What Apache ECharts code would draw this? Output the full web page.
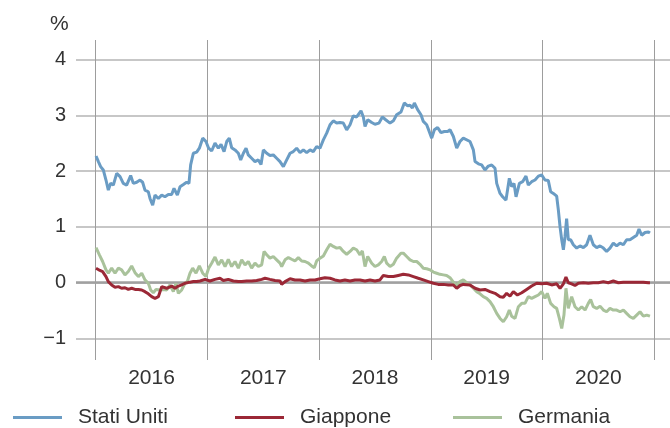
<!DOCTYPE html>
<html>
<head>
<meta charset="utf-8">
<script src="https://cdn.jsdelivr.net/npm/echarts@6/dist/echarts.min.js"></script>
<style>
  html, body { margin: 0; padding: 0; background: #fff; }
  #chart { width: 670px; height: 428px; }
</style>
</head>
<body>
<div id="chart"></div>
<script>
// etichette e valori (anno decimale, rendimento %)
const yearTicks = [2016, 2017, 2018, 2019, 2020, 2021];
const yearLabels = [2016.5, 2017.5, 2018.5, 2019.5, 2020.5];
const yTicks = [-1, 0, 1, 2, 3, 4];
const seriesNames = ["Stati Uniti", "Giappone", "Germania"];

const statiUniti = [
  [2016.003,2.27],[2016.024,2.17],[2016.044,2.08],[2016.068,2.02],[2016.092,1.84],[2016.113,1.66],[2016.134,1.78],[2016.158,1.75],
  [2016.188,1.96],[2016.218,1.90],[2016.247,1.78],[2016.277,1.75],[2016.313,1.92],[2016.337,1.78],[2016.367,1.80],[2016.397,1.84],
  [2016.420,1.80],[2016.441,1.66],[2016.471,1.63],[2016.486,1.51],[2016.510,1.39],[2016.531,1.57],[2016.561,1.51],[2016.591,1.57],
  [2016.620,1.54],[2016.650,1.58],[2016.680,1.58],[2016.701,1.69],[2016.731,1.57],[2016.755,1.72],[2016.785,1.76],[2016.814,1.80],
  [2016.835,1.78],[2016.850,2.11],[2016.874,2.32],[2016.904,2.34],[2016.928,2.41],[2016.958,2.59],[2016.987,2.53],[2017.011,2.41],
  [2017.038,2.36],[2017.068,2.50],[2017.098,2.41],[2017.122,2.48],[2017.149,2.35],[2017.173,2.53],[2017.196,2.59],[2017.217,2.42],
  [2017.247,2.38],[2017.277,2.32],[2017.298,2.20],[2017.322,2.32],[2017.346,2.41],[2017.366,2.29],[2017.396,2.23],[2017.426,2.17],
  [2017.456,2.20],[2017.480,2.12],[2017.501,2.38],[2017.531,2.32],[2017.560,2.28],[2017.590,2.29],[2017.620,2.23],[2017.650,2.17],
  [2017.680,2.08],[2017.710,2.20],[2017.740,2.32],[2017.769,2.35],[2017.799,2.41],[2017.829,2.33],[2017.859,2.38],[2017.889,2.33],
  [2017.919,2.38],[2017.948,2.35],[2017.978,2.44],[2018.008,2.41],[2018.038,2.56],[2018.068,2.68],[2018.098,2.83],[2018.127,2.90],
  [2018.157,2.86],[2018.187,2.87],[2018.217,2.86],[2018.247,2.74],[2018.277,2.83],[2018.306,2.99],[2018.336,2.97],[2018.375,3.08],
  [2018.396,2.97],[2018.411,2.80],[2018.435,2.92],[2018.471,2.87],[2018.500,2.84],[2018.536,2.86],[2018.566,2.97],[2018.596,2.92],
  [2018.635,2.86],[2018.665,2.90],[2018.694,3.01],[2018.733,3.06],[2018.763,3.22],[2018.793,3.17],[2018.814,3.18],[2018.835,3.13],
  [2018.853,3.22],[2018.882,3.10],[2018.912,3.01],[2018.933,2.89],[2018.963,2.83],[2018.984,2.72],[2019.008,2.59],[2019.032,2.74],
  [2019.061,2.78],[2019.091,2.69],[2019.121,2.71],[2019.151,2.71],[2019.172,2.74],[2019.202,2.62],[2019.232,2.41],[2019.261,2.53],
  [2019.291,2.59],[2019.351,2.53],[2019.381,2.38],[2019.396,2.17],[2019.426,2.13],[2019.455,2.11],[2019.485,2.02],[2019.515,2.09],
  [2019.545,2.11],[2019.575,2.05],[2019.590,1.78],[2019.620,1.60],[2019.643,1.54],[2019.673,1.48],[2019.703,1.87],[2019.724,1.72],
  [2019.745,1.78],[2019.763,1.54],[2019.793,1.78],[2019.822,1.81],[2019.852,1.91],[2019.873,1.75],[2019.903,1.81],[2019.933,1.84],
  [2019.963,1.91],[2019.993,1.93],[2020.022,1.84],[2020.052,1.83],[2020.073,1.63],[2020.097,1.60],[2020.127,1.55],[2020.142,1.30],
  [2020.157,1.00],[2020.172,0.77],[2020.187,0.59],[2020.201,0.82],[2020.216,1.15],[2020.231,0.77],[2020.252,0.77],[2020.276,0.68],
  [2020.306,0.62],[2020.336,0.66],[2020.366,0.63],[2020.395,0.68],[2020.425,0.85],[2020.455,0.68],[2020.485,0.63],[2020.515,0.66],
  [2020.545,0.62],[2020.574,0.56],[2020.604,0.62],[2020.634,0.71],[2020.664,0.66],[2020.694,0.71],[2020.724,0.68],[2020.753,0.77],
  [2020.783,0.77],[2020.813,0.81],[2020.843,0.85],[2020.864,0.96],[2020.888,0.85],[2020.918,0.90],[2020.948,0.91],[2020.962,0.89]
];

const giappone = [
  [2016.003,0.26],[2016.038,0.22],[2016.062,0.20],[2016.092,0.11],[2016.113,0.02],[2016.143,-0.04],[2016.173,-0.08],[2016.203,-0.07],
  [2016.232,-0.10],[2016.262,-0.09],[2016.292,-0.12],[2016.322,-0.10],[2016.352,-0.12],[2016.382,-0.12],[2016.412,-0.13],[2016.441,-0.16],
  [2016.471,-0.20],[2016.501,-0.25],[2016.531,-0.28],[2016.561,-0.25],[2016.591,-0.07],[2016.635,-0.10],[2016.680,-0.06],[2016.710,-0.10],
  [2016.740,-0.06],[2016.770,-0.04],[2016.799,-0.01],[2016.844,0.01],[2016.874,0.02],[2016.904,0.02],[2016.934,0.03],[2016.979,0.06],
  [2017.023,0.03],[2017.068,0.06],[2017.113,0.08],[2017.143,0.04],[2017.187,0.06],[2017.232,0.03],[2017.277,0.02],[2017.307,0.02],
  [2017.352,0.03],[2017.396,0.03],[2017.441,0.04],[2017.486,0.06],[2017.516,0.08],[2017.560,0.06],[2017.605,0.04],[2017.650,0.03],
  [2017.665,-0.03],[2017.695,0.02],[2017.740,0.07],[2017.784,0.05],[2017.829,0.05],[2017.874,0.03],[2017.919,0.05],[2017.963,0.05],
  [2018.008,0.07],[2018.052,0.09],[2018.098,0.08],[2018.142,0.05],[2018.187,0.03],[2018.231,0.05],[2018.277,0.03],[2018.321,0.05],
  [2018.366,0.05],[2018.411,0.03],[2018.456,0.05],[2018.500,0.03],[2018.545,0.05],[2018.575,0.13],[2018.620,0.11],[2018.665,0.11],
  [2018.709,0.13],[2018.754,0.15],[2018.799,0.14],[2018.844,0.11],[2018.888,0.08],[2018.933,0.05],[2018.978,0.02],[2019.023,-0.01],
  [2019.067,-0.03],[2019.112,-0.03],[2019.157,-0.04],[2019.202,-0.04],[2019.232,-0.10],[2019.261,-0.05],[2019.291,-0.03],[2019.351,-0.04],
  [2019.396,-0.10],[2019.441,-0.13],[2019.485,-0.12],[2019.530,-0.16],[2019.575,-0.19],[2019.620,-0.25],[2019.649,-0.26],[2019.679,-0.19],
  [2019.709,-0.24],[2019.739,-0.16],[2019.775,-0.22],[2019.814,-0.18],[2019.858,-0.12],[2019.903,-0.06],[2019.948,-0.01],[2019.993,-0.02],
  [2020.037,-0.01],[2020.082,-0.04],[2020.127,-0.02],[2020.157,-0.10],[2020.187,-0.02],[2020.210,0.10],[2020.231,0.00],[2020.261,-0.02],
  [2020.291,-0.05],[2020.321,-0.01],[2020.366,0.00],[2020.410,-0.01],[2020.455,0.00],[2020.500,0.00],[2020.545,0.02],[2020.589,0.00],
  [2020.634,0.03],[2020.679,0.00],[2020.724,0.01],[2020.768,0.01],[2020.813,0.01],[2020.858,0.01],[2020.903,0.01],[2020.948,0.00],
  [2020.962,0.00]
];

const germania = [
  [2016.003,0.63],[2016.033,0.50],[2016.062,0.38],[2016.092,0.23],[2016.113,0.17],[2016.143,0.26],[2016.173,0.17],[2016.203,0.26],
  [2016.232,0.23],[2016.262,0.14],[2016.292,0.20],[2016.322,0.30],[2016.352,0.18],[2016.382,0.11],[2016.412,0.17],[2016.441,0.05],
  [2016.471,-0.01],[2016.492,-0.13],[2016.516,-0.18],[2016.540,-0.12],[2016.576,-0.13],[2016.605,-0.12],[2016.635,-0.13],[2016.665,-0.04],
  [2016.695,-0.16],[2016.719,-0.01],[2016.740,-0.19],[2016.770,-0.13],[2016.799,-0.01],[2016.820,0.02],[2016.844,0.17],[2016.868,0.26],
  [2016.898,0.17],[2016.928,0.30],[2016.958,0.17],[2016.987,0.11],[2017.011,0.26],[2017.038,0.35],[2017.068,0.46],[2017.098,0.32],
  [2017.128,0.41],[2017.158,0.29],[2017.187,0.42],[2017.217,0.29],[2017.247,0.38],[2017.277,0.26],[2017.307,0.41],[2017.337,0.32],
  [2017.366,0.38],[2017.396,0.26],[2017.426,0.35],[2017.456,0.29],[2017.486,0.32],[2017.507,0.56],[2017.531,0.50],[2017.560,0.44],
  [2017.590,0.47],[2017.620,0.41],[2017.650,0.35],[2017.665,0.29],[2017.695,0.41],[2017.725,0.45],[2017.754,0.42],[2017.784,0.39],
  [2017.814,0.45],[2017.844,0.39],[2017.874,0.38],[2017.904,0.35],[2017.933,0.30],[2017.957,0.27],[2017.978,0.39],[2018.008,0.44],
  [2018.038,0.48],[2018.068,0.59],[2018.098,0.69],[2018.127,0.65],[2018.157,0.62],[2018.187,0.63],[2018.217,0.56],[2018.247,0.51],
  [2018.277,0.56],[2018.306,0.62],[2018.336,0.59],[2018.366,0.50],[2018.387,0.57],[2018.411,0.29],[2018.435,0.47],[2018.471,0.35],
  [2018.500,0.29],[2018.530,0.32],[2018.560,0.38],[2018.584,0.47],[2018.605,0.35],[2018.635,0.29],[2018.665,0.33],[2018.694,0.44],
  [2018.733,0.53],[2018.754,0.53],[2018.784,0.47],[2018.814,0.41],[2018.844,0.38],[2018.874,0.38],[2018.903,0.33],[2018.933,0.26],
  [2018.963,0.25],[2018.993,0.23],[2019.023,0.19],[2019.053,0.17],[2019.082,0.15],[2019.112,0.14],[2019.142,0.13],[2019.172,0.09],
  [2019.202,0.01],[2019.232,-0.04],[2019.261,0.02],[2019.291,0.05],[2019.321,0.00],[2019.351,-0.04],[2019.381,-0.10],[2019.411,-0.16],
  [2019.441,-0.20],[2019.470,-0.25],[2019.500,-0.28],[2019.530,-0.34],[2019.560,-0.43],[2019.590,-0.55],[2019.620,-0.64],[2019.649,-0.70],
  [2019.679,-0.61],[2019.703,-0.49],[2019.724,-0.60],[2019.754,-0.64],[2019.784,-0.43],[2019.814,-0.37],[2019.843,-0.37],[2019.873,-0.25],
  [2019.903,-0.28],[2019.933,-0.25],[2019.963,-0.22],[2019.993,-0.16],[2020.022,-0.28],[2020.043,-0.19],[2020.073,-0.37],[2020.103,-0.43],
  [2020.127,-0.46],[2020.151,-0.64],[2020.172,-0.82],[2020.192,-0.58],[2020.210,-0.10],[2020.231,-0.46],[2020.261,-0.25],[2020.291,-0.43],
  [2020.321,-0.49],[2020.351,-0.43],[2020.381,-0.49],[2020.410,-0.37],[2020.431,-0.30],[2020.455,-0.43],[2020.485,-0.46],[2020.515,-0.42],
  [2020.545,-0.49],[2020.574,-0.52],[2020.604,-0.46],[2020.634,-0.49],[2020.664,-0.49],[2020.694,-0.52],[2020.724,-0.49],[2020.753,-0.55],
  [2020.783,-0.61],[2020.813,-0.64],[2020.843,-0.58],[2020.873,-0.52],[2020.903,-0.60],[2020.933,-0.58],[2020.962,-0.60]
];

const colors = ["#6a9cc4", "#9b2836", "#a9c29b"];
const font = "'Liberation Sans', Arial, sans-serif";

const chart = echarts.init(document.getElementById("chart"), null, { renderer: "canvas" });

// una legenda per voce, cosi le posizioni restano fisse
const legendLeft = [8, 230, 448];
const legends = seriesNames.map((name, i) => ({
  data: [name],
  left: legendLeft[i],
  top: 402,
  icon: "rect",
  itemWidth: 49,
  itemHeight: 3,
  textStyle: { fontSize: 21, color: "#333", fontFamily: font, padding: [0, 0, 0, 11] },
}));

const option = {
  animation: false,
  title: {
    text: "%",
    left: 45,
    top: 9,
    textStyle: { fontSize: 21, fontWeight: "normal", color: "#333", fontFamily: font },
  },
  legend: legends,
  grid: { left: 76, right: 0, top: 40, bottom: 68 },
  xAxis: {
    type: "value",
    min: 2015.8236,
    max: 2021.1414,
    axisLine: { show: false },
    axisTick: { show: false, customValues: yearTicks },
    axisLabel: {
      customValues: yearLabels,
      formatter: (v) => String(Math.floor(v)),
      fontSize: 21,
      color: "#333",
      fontFamily: font,
      margin: 8,
    },
    splitLine: { show: true, lineStyle: { color: "#9d9d9d", width: 1 } },
  },
  yAxis: {
    type: "value",
    min: -1.385,
    max: 4.349,
    axisLine: { show: false },
    axisTick: { show: false, customValues: yTicks },
    axisLabel: {
      customValues: yTicks,
      formatter: (v) => (v < 0 ? "\u2212" + Math.abs(v) : String(v)),
      fontSize: 20,
      color: "#333",
      fontFamily: font,
      margin: 10,
    },
    splitLine: { show: true, lineStyle: { color: "#b4b4b4", width: 1.5 } },
  },
  series: [
    {
      name: seriesNames[2],
      type: "line",
      data: germania,
      showSymbol: false,
      lineStyle: { color: colors[2], width: 3 },
      itemStyle: { color: colors[2] },
      // linea dello zero, sotto le serie
      markLine: {
        silent: true,
        z: 1,
        symbol: "none",
        label: { show: false },
        lineStyle: { color: "#a0a0a0", width: 2.5, type: "solid" },
        data: [{ yAxis: 0 }],
      },
      z: 2,
    },
    {
      name: seriesNames[1],
      type: "line",
      data: giappone,
      showSymbol: false,
      lineStyle: { color: colors[1], width: 3 },
      itemStyle: { color: colors[1] },
      z: 3,
    },
    {
      name: seriesNames[0],
      type: "line",
      data: statiUniti,
      showSymbol: false,
      lineStyle: { color: colors[0], width: 3 },
      itemStyle: { color: colors[0] },
      z: 4,
    },
  ],
};

chart.setOption(option);
</script>
</body>
</html>
